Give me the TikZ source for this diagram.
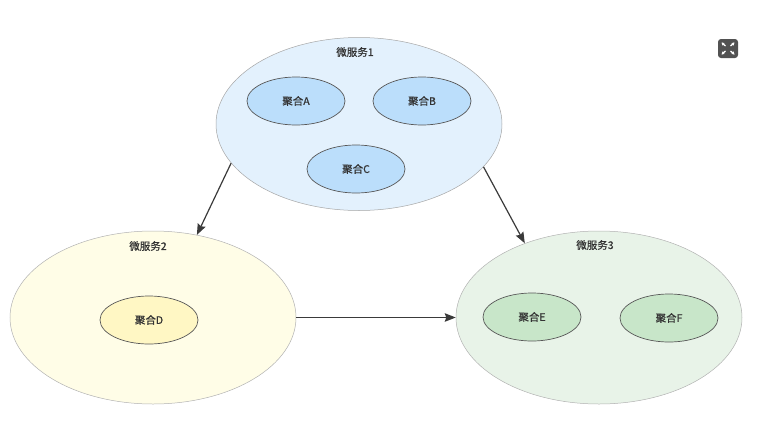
\documentclass[tikz,border=0pt]{standalone}
\usepackage{fontspec}
\setmainfont[BoldFont={Noto Sans CJK SC},BoldFeatures={FakeBold=0.6}]{Noto Sans CJK SC}
\usetikzlibrary{shapes.geometric,arrows.meta}
\definecolor{txtgray}{HTML}{333333}
\definecolor{linegray}{HTML}{3A3A3A}
\definecolor{blueouter}{HTML}{E3F1FD}
\definecolor{blueinner}{HTML}{BBDEFB}
\definecolor{yellowouter}{HTML}{FFFDE7}
\definecolor{yellowinner}{HTML}{FFF7C4}
\definecolor{greenouter}{HTML}{E8F3E8}
\definecolor{greeninner}{HTML}{C8E6C9}
\tikzset{
  service/.style={ellipse,draw=#1,inner sep=0pt,minimum width=286pt,minimum height=173pt,line width=.5pt},
  aggregate/.style={ellipse,draw=linegray!85,inner sep=0pt,minimum width=98pt,minimum height=48pt,line width=.7pt,
    font=\fontsize{10.5}{12}\selectfont\bfseries,text=txtgray},
  title/.style={font=\fontsize{10.5}{12}\selectfont\bfseries,text=txtgray,inner sep=0pt},
  flow/.style={-{Stealth[length=11pt,width=8.5pt,inset=1.5pt]},draw=linegray,line width=1.2pt},
}
\begin{document}
\begin{tikzpicture}[x=1pt,y=-1pt]
      \useasboundingbox (0,0) rectangle (761,421);
      %services
      \node[service=black!35,fill=blueouter] (svc1) at (359,124) {};
      \node[service=black!30,fill=yellowouter] (svc2) at (153,317.5) {};
      \node[service=black!30,fill=greenouter] (svc3) at (599,317.5) {};
      \node[title] (name1) at (355,52) {微服务1};
      \node[title] (name2) at (148,246) {微服务2};
      \node[title] (name3) at (595,245) {微服务3};
      %aggregates
      \node[aggregate,fill=blueinner] (aggA) at (296,101) {\raisebox{-1pt}{聚合A}};
      \node[aggregate,fill=blueinner] (aggB) at (422,101) {\raisebox{-1pt}{聚合B}};
      \node[aggregate,fill=blueinner] (aggC) at (356,169) {\raisebox{-1pt}{聚合C}};
      \node[aggregate,fill=yellowinner] (aggD) at (149,320) {\raisebox{-1pt}{聚合D}};
      \node[aggregate,fill=greeninner] (aggE) at (532,317) {\raisebox{-1pt}{聚合E}};
      \node[aggregate,fill=greeninner] (aggF) at (669,318) {\raisebox{-1pt}{聚合F}};
      %arrows
      \draw[flow] (svc1.197) -- (svc2.62);
      \draw[flow] (svc1.-19) -- (svc3.135);
      \draw[flow] (svc2.east) -- (svc3.west);
      %expand icon
      \fill[rounded corners=3pt,black!68] (718,39) rectangle (738,58);
      \draw[white,line width=1.3pt,-{Stealth[length=3pt,width=3.5pt]}] (725.5,46) -- (721.5,42.5);
      \draw[white,line width=1.3pt,-{Stealth[length=3pt,width=3.5pt]}] (730.5,46) -- (734.5,42.5);
      \draw[white,line width=1.3pt,-{Stealth[length=3pt,width=3.5pt]}] (725.5,51) -- (721.5,54.5);
      \draw[white,line width=1.3pt,-{Stealth[length=3pt,width=3.5pt]}] (730.5,51) -- (734.5,54.5);
\end{tikzpicture}
\end{document}
